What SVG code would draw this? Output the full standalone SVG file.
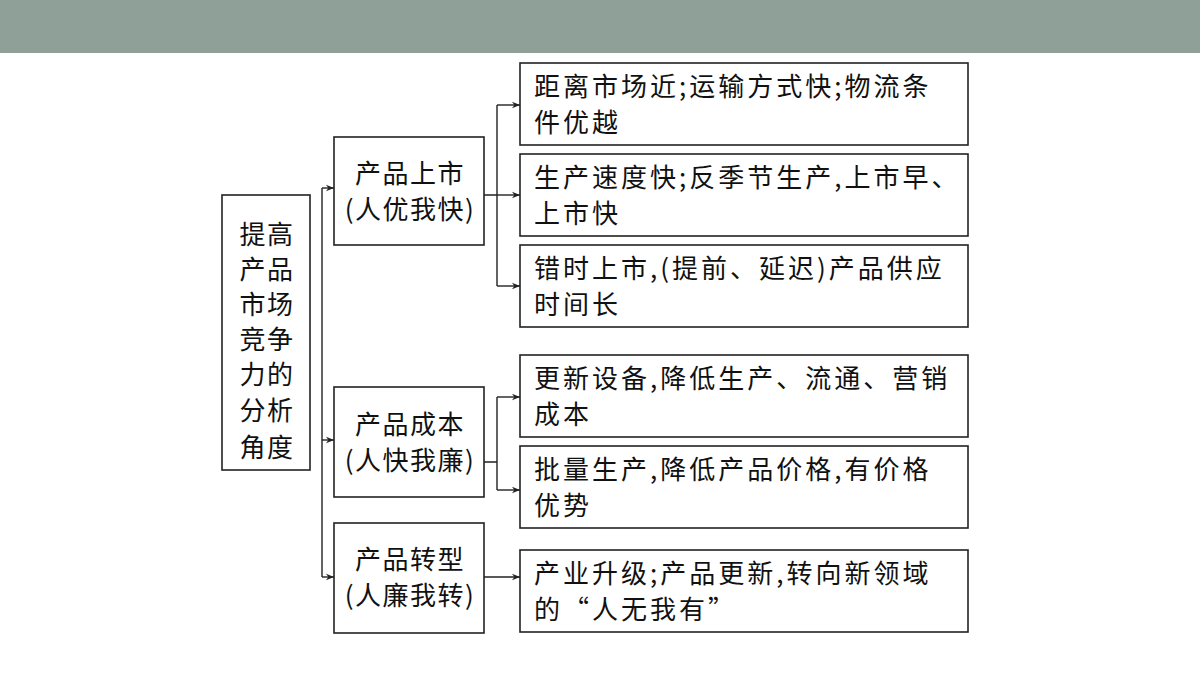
<svg xmlns="http://www.w3.org/2000/svg" width="1200" height="675" viewBox="0 0 1200 675">
<defs>
<style>
.b{fill:#fff;stroke:#222;stroke-width:1.6}
.t{font-family:"Noto Sans CJK SC","Liberation Serif",serif;font-size:26px;fill:#111}
.r{letter-spacing:3px}
.m{letter-spacing:1.5px}
.c{fill:none;stroke:#222;stroke-width:1.4}
</style>
<marker id="a" viewBox="0 0 10 10" refX="10" refY="5" markerWidth="11" markerHeight="8" orient="auto" markerUnits="userSpaceOnUse"><path d="M0,1 L10,5 L0,9 L3,5z" fill="#222"/></marker>
</defs>
<rect width="1200" height="675" fill="#fff"/>
<rect width="1200" height="53" fill="#8fa098"/>
<g id="root"><rect class="b" x="222" y="195" width="88" height="275"/>
<text class="t m" text-anchor="middle"><tspan x="267" y="244">提高</tspan><tspan x="267" y="279">产品</tspan><tspan x="267" y="314">市场</tspan><tspan x="267" y="349">竞争</tspan><tspan x="267" y="384">力的</tspan><tspan x="267" y="420">分析</tspan><tspan x="267" y="457">角度</tspan></text></g>
<g id="m1"><rect class="b" x="334" y="137" width="150" height="108"/><text class="t m" text-anchor="middle"><tspan x="410" y="183">产品上市</tspan><tspan x="410" y="219">(人优我快)</tspan></text></g>
<g id="m2"><rect class="b" x="334" y="387" width="150" height="110"/><text class="t m" text-anchor="middle"><tspan x="410" y="434">产品成本</tspan><tspan x="410" y="470">(人快我廉)</tspan></text></g>
<g id="m3"><rect class="b" x="334" y="523" width="150" height="110"/><text class="t m" text-anchor="middle"><tspan x="410" y="569">产品转型</tspan><tspan x="410" y="605">(人廉我转)</tspan></text></g>
<g id="r1"><rect class="b" x="520" y="63" width="448" height="82"/><text class="t r"><tspan x="534" y="96">距离市场近;运输方式快;物流条</tspan><tspan x="534" y="132">件优越</tspan></text></g>
<g id="r2"><rect class="b" x="520" y="154" width="448" height="82"/><text class="t r"><tspan x="534" y="187">生产速度快;反季节生产,上市早、</tspan><tspan x="534" y="223">上市快</tspan></text></g>
<g id="r3"><rect class="b" x="520" y="245" width="448" height="82"/><text class="t r"><tspan x="534" y="278">错时上市,(提前、延迟)产品供应</tspan><tspan x="534" y="314">时间长</tspan></text></g>
<g id="r4"><rect class="b" x="520" y="355" width="448" height="82"/><text class="t r"><tspan x="534" y="388">更新设备,降低生产、流通、营销</tspan><tspan x="534" y="424">成本</tspan></text></g>
<g id="r5"><rect class="b" x="520" y="446" width="448" height="82"/><text class="t r"><tspan x="534" y="479">批量生产,降低产品价格,有价格</tspan><tspan x="534" y="515">优势</tspan></text></g>
<g id="r6"><rect class="b" x="520" y="550" width="448" height="82"/><text class="t r"><tspan x="534" y="583">产业升级;产品更新,转向新领域</tspan><tspan x="534" y="619">的“人无我有”</tspan></text></g>
<g id="connectors">
<path class="c" d="M322,188 V577"/>
<path class="c" d="M322,188 H334" marker-end="url(#a)"/>
<path class="c" d="M322,440 H334" marker-end="url(#a)"/>
<path class="c" d="M322,577 H334" marker-end="url(#a)"/>
<path class="c" d="M484,195 H497 M497,105 V286"/>
<path class="c" d="M497,105 H520" marker-end="url(#a)"/>
<path class="c" d="M497,195 H520" marker-end="url(#a)"/>
<path class="c" d="M497,286 H520" marker-end="url(#a)"/>
<path class="c" d="M484,462 H497 M497,397 V490"/>
<path class="c" d="M497,397 H520" marker-end="url(#a)"/>
<path class="c" d="M497,490 H520" marker-end="url(#a)"/>
<path class="c" d="M484,577 H520" marker-end="url(#a)"/>
</g>
</svg>
